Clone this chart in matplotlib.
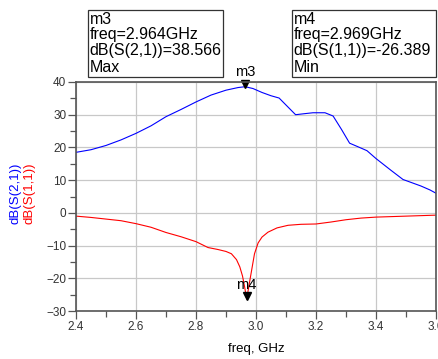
import matplotlib
matplotlib.use("Agg")
import matplotlib.pyplot as plt
from matplotlib.patches import Rectangle
from matplotlib.ticker import MultipleLocator

plt.rcParams['font.family'] = ['Liberation Sans', 'DejaVu Sans']

freq_s21 = [2.40, 2.45, 2.50, 2.55, 2.60, 2.65, 2.70, 2.75, 2.80, 2.85, 2.90, 2.94, 2.964,
            2.99, 3.02, 3.05, 3.077, 3.105, 3.132, 3.16, 3.19, 3.23, 3.257, 3.285, 3.312,
            3.34, 3.37, 3.40, 3.45, 3.49, 3.52, 3.55, 3.58, 3.60]
s21_db = [18.5, 19.3, 20.6, 22.3, 24.3, 26.6, 29.4, 31.6, 33.9, 36.0, 37.5, 38.3, 38.566,
          38.0, 36.8, 35.8, 35.1, 32.5, 30.0, 30.3, 30.6, 30.6, 29.6, 25.5, 21.3,
          20.2, 19.0, 16.6, 13.0, 10.2, 9.2, 8.2, 7.0, 6.0]

freq_s11 = [2.40, 2.45, 2.50, 2.55, 2.60, 2.65, 2.70, 2.75, 2.80, 2.84, 2.873, 2.90, 2.918,
            2.935, 2.946, 2.955, 2.962, 2.969, 2.976, 2.984, 2.995, 3.007, 3.02, 3.04,
            3.07, 3.107, 3.15, 3.20, 3.25, 3.30, 3.35, 3.40, 3.50, 3.60]
s11_db = [-1.0, -1.4, -1.9, -2.4, -3.3, -4.4, -6.0, -7.3, -8.8, -10.6, -11.2, -11.8, -12.5,
          -14.3, -16.5, -19.3, -22.6, -26.389, -22.5, -18.3, -12.5, -9.2, -7.4, -5.9,
          -4.6, -3.8, -3.5, -3.4, -2.8, -2.1, -1.6, -1.3, -1.0, -0.7]

m3 = (2.964, 38.566)
m4 = (2.969, -26.389)
xticks = [2.4, 2.6, 2.8, 3.0, 3.2, 3.4, 3.6]
yticks = [-30, -20, -10, 0, 10, 20, 30, 40]

fig = plt.figure(figsize=(4.38, 3.59), dpi=100)
ax = fig.add_axes([76/438, 1-311/359, 360/438, 229/359])
ax.plot(freq_s21, s21_db, color='#0000ff', lw=0.8)
ax.plot(freq_s11, s11_db, color='#ff0000', lw=0.8)
ax.set_xlim(2.4, 3.6)
ax.set_ylim(-30, 40)
ax.set_xticks(xticks)
ax.set_yticks(yticks)
ax.set_xticklabels(['%.1f' % v for v in xticks])
ax.xaxis.set_minor_locator(MultipleLocator(0.1))
ax.yaxis.set_minor_locator(MultipleLocator(5))
ax.grid(True, which='major', color='#c8c8c8', lw=0.9)
ax.tick_params(which='major', direction='out', length=6, width=0.9, color='#555555',
               labelsize=8.5, labelcolor='#333333', pad=1)
ax.tick_params(which='minor', direction='out', length=4, width=0.9, color='#555555')
for sp in ax.spines.values():
    sp.set_color('#555555')
    sp.set_linewidth(1.2)

# markers
ax.plot([m3[0]], [m3[1] + 0.9], marker='v', color='black', ms=6, clip_on=False)
ax.text(m3[0], m3[1] + 2.4, 'm3', ha='center', va='bottom', fontsize=10.5, clip_on=False)
ax.plot([m4[0]], [m4[1] + 1.0], marker='v', color='black', ms=6, clip_on=False)
ax.text(m4[0], m4[1] + 2.2, 'm4', ha='center', va='bottom', fontsize=10.5)

ax.set_xlabel('freq, GHz', fontsize=9.5, va='center')
ax.xaxis.set_label_coords(0.5, -(349 - 311) / 229)

# y labels
fig.text(16/438, 1-193/359, 'dB(S(2,1))', color='#0000ff', rotation=90,
         ha='center', va='center', fontsize=9.5)
fig.text(30/438, 1-193/359, 'dB(S(1,1))', color='#ff0000', rotation=90,
         ha='center', va='center', fontsize=9.5)

# marker readout boxes
def box(x0, y0, x1, y1, lines):
    W, H = 438, 359
    fig.patches.append(Rectangle((x0/W, 1-y1/H), (x1-x0)/W, (y1-y0)/H,
                                 transform=fig.transFigure, fill=False,
                                 edgecolor='#333333', lw=0.9))
    for i, t in enumerate(lines):
        fig.text((x0+1.5)/W, 1-(y0+9+i*16)/H, t, ha='left', va='center', fontsize=11.5)

box(88, 10, 223, 77, ['m3', 'freq=2.964GHz', 'dB(S(2,1))=38.566', 'Max'])
box(292, 10, 436, 77, ['m4', 'freq=2.969GHz', 'dB(S(1,1))=-26.389', 'Min'])

fig.savefig('out.png', dpi=100)
